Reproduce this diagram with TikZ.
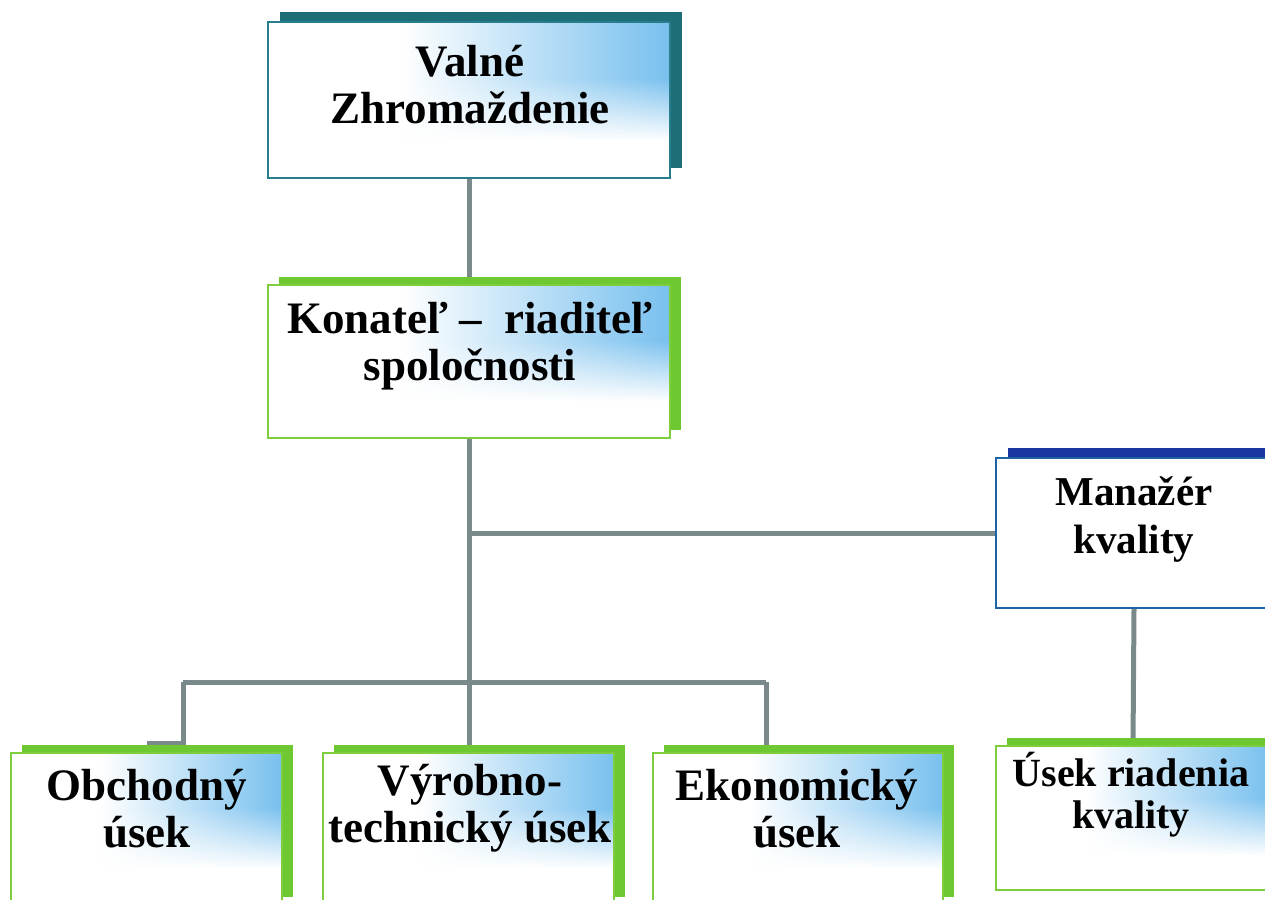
\documentclass[tikz,border=0pt]{standalone}
\usepackage{fontspec}
\setmainfont{Liberation Serif}
\usetikzlibrary{shadows,fadings,calc}
\definecolor{conn}{RGB}{122,138,138}
\definecolor{tealsh}{RGB}{30,110,120}
\definecolor{tealbd}{RGB}{40,125,140}
\definecolor{greensh}{RGB}{110,200,50}
\definecolor{greenbd}{RGB}{125,205,60}
\definecolor{bluesh}{RGB}{25,55,160}
\definecolor{bluebd}{RGB}{30,100,165}
\definecolor{sky}{RGB}{120,192,238}
\tikzfading[name=fadedown, top color=transparent!100, bottom color=transparent!0]
\pgfdeclarelayer{bg}
\pgfsetlayers{bg,main}
\tikzset{
  grad/.style={path picture={
    \path (path picture bounding box.south west) coordinate (sw)
          (path picture bounding box.north east) coordinate (ne);
    \fill[left color=white, right color=sky] ($(sw)!0.33!(sw -| ne)$) rectangle (ne);
    \fill[white, path fading=fadedown] ($(sw |- ne)!0.36!(sw)$) rectangle ($(ne)!0.76!(ne |- sw)$);
    \fill[white] ($(sw |- ne)!0.755!(sw)$) rectangle (sw -| ne);
  }},
  box/.style={rectangle, inner sep=0pt, line width=2pt, fill=white},
  tealbox/.style={box, draw=tealbd, general shadow={fill=tealsh, shadow xshift=12pt, shadow yshift=10pt}, grad},
  greenbox/.style={box, draw=greenbd, general shadow={fill=greensh, shadow xshift=11pt, shadow yshift=8pt}, grad},
  bluebox/.style={box, draw=bluebd, general shadow={fill=bluesh, shadow xshift=12pt, shadow yshift=10pt}},
  txt/.style={font=\bfseries\fontsize{45}{47}\selectfont, align=center, inner sep=0pt, anchor=base},
  conline/.style={draw=conn, line width=5pt},
}
\begin{document}
\begin{tikzpicture}[x=1pt, y=-1pt]
\useasboundingbox (0,0) rectangle (1265,899);
\clip (0,0) rectangle (1265,899);
% boxes
\node[tealbox, minimum width=402pt, minimum height=156pt] (v) at (469,100) {};
\node[greenbox, minimum width=402pt, minimum height=153pt] (k) at (469,361.5) {};
\node[bluebox, minimum width=276pt, minimum height=150pt] (m) at (1134,533) {};
\node[greenbox, minimum width=271pt, minimum height=152pt] (o) at (146.5,829) {};
\node[greenbox, minimum width=291pt, minimum height=152pt] (vy) at (468.5,829) {};
\node[greenbox, minimum width=290pt, minimum height=152pt] (e) at (798,829) {};
\node[greenbox, minimum width=274pt, minimum height=144pt] (u) at (1133,818) {};
% connectors
\coordinate (hl) at (183,682);
\coordinate (hr) at (766,682);
\coordinate (ostub) at (147,743);
\begin{pgfonlayer}{bg}
\draw[conline] (v.south) -- (k.north);
\draw[conline] (k.south) -- (k.south |- vy.north);
\draw[conline] (k.south |- m.west) -- (m.west);
\draw[conline] (hl) -- (hr);
\draw[conline] (hl) -- (hl |- ostub) -- (ostub);
\draw[conline] (hr) -- (hr |- e.north);
\draw[conline] (m.south) -- (u.north);
\end{pgfonlayer}
% texts
\node[txt] (vt) at (470,123) {Valné\\Zhromaždenie};
\node[txt] (kt) at (470,380) {Konateľ –\ \ riaditeľ\\spoločnosti};
\node[txt, font=\bfseries\fontsize{41}{48}\selectfont] (mt) at (1134,553) {Manažér\\kvality};
\node[txt] (ot) at (147,847) {Obchodný\\úsek};
\node[txt] (vyt) at (470,842) {Výrobno-\\technický úsek};
\node[txt] (et) at (797,847) {Ekonomický\\úsek};
\node[txt, font=\bfseries\fontsize{40}{42}\selectfont] (ut) at (1131,828) {Úsek riadenia\\kvality};
\end{tikzpicture}
\end{document}
